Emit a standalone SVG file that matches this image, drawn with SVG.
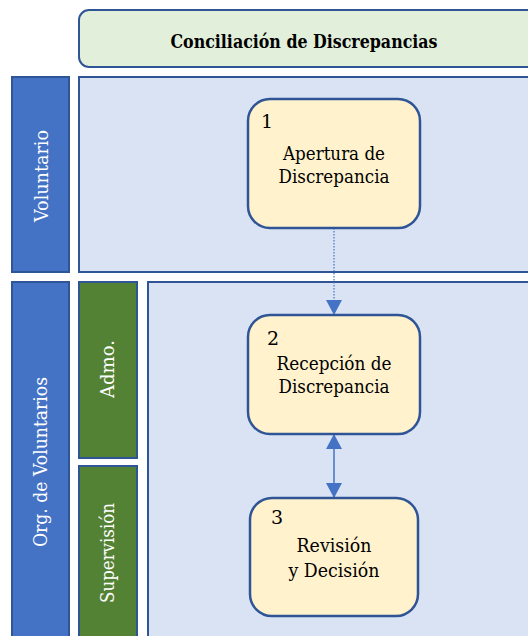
<svg xmlns="http://www.w3.org/2000/svg" width="528" height="636" viewBox="0 0 528 636">
<style>
.lane{fill:#4472c4;stroke:#2f5597;stroke-width:2}
.sub{fill:#548235;stroke:#2f5597;stroke-width:2}
.area{fill:#dae3f3;stroke:#2f5597;stroke-width:2}
.node{fill:#fff2cc;stroke:#2f5597;stroke-width:2.5}
text{font-family:'DejaVu Serif','Liberation Serif',serif;font-size:19px}
.t{fill:#000}
.w{fill:#fff;text-anchor:middle}
.c{text-anchor:middle}
</style>
<defs>
<marker id="ah" markerWidth="15" markerHeight="16" refX="15" refY="8" orient="auto" markerUnits="userSpaceOnUse">
<path d="M0,0 L15,8 L0,16 Z" fill="#4472c4"/>
</marker>
<marker id="as" markerWidth="15" markerHeight="16" refX="0" refY="8" orient="auto" markerUnits="userSpaceOnUse">
<path d="M15,0 L0,8 L15,16 Z" fill="#4472c4"/>
</marker>
</defs>
<rect width="528" height="636" fill="#fff"/>
<g id="title">
<rect x="79" y="10" width="470" height="57" rx="10" fill="#e2efda" stroke="#2f5597" stroke-width="2"/>
<text class="t c" x="304" y="48" font-weight="bold" textLength="267" lengthAdjust="spacingAndGlyphs">Conciliación de Discrepancias</text>
</g>
<g id="lane-voluntario">
<rect class="lane" x="12" y="77" width="57" height="195"/>
<text class="w" transform="translate(48,176) rotate(-90)" textLength="92" lengthAdjust="spacingAndGlyphs">Voluntario</text>
<rect class="area" x="79" y="77" width="470" height="195"/>
</g>
<g id="lane-org">
<rect class="lane" x="12" y="282" width="57" height="370"/>
<text class="w" transform="translate(47,462) rotate(-90)" textLength="170" lengthAdjust="spacingAndGlyphs">Org. de Voluntarios</text>
<rect class="sub" x="79" y="282" width="58" height="176"/>
<text class="w" transform="translate(114,369) rotate(-90)" textLength="58" lengthAdjust="spacingAndGlyphs">Admo.</text>
<rect class="sub" x="79" y="466" width="58" height="186"/>
<text class="w" transform="translate(114,553) rotate(-90)" textLength="100" lengthAdjust="spacingAndGlyphs">Supervisión</text>
<rect class="area" x="148" y="282" width="400" height="370"/>
</g>
<g id="connectors">
<line x1="334" y1="228" x2="334" y2="315" stroke="#4472c4" stroke-width="1.2" stroke-dasharray="1.5,1.5" marker-end="url(#ah)"/>
<line x1="334" y1="434" x2="334" y2="498" stroke="#4472c4" stroke-width="1.5" marker-start="url(#as)" marker-end="url(#ah)"/>
</g>
<g id="node1">
<rect class="node" x="248" y="99" width="172" height="129" rx="22"/>
<text class="t" x="261" y="128">1</text>
<text class="t c" x="334" y="160" textLength="102" lengthAdjust="spacingAndGlyphs">Apertura de</text>
<text class="t c" x="334" y="183" textLength="111" lengthAdjust="spacingAndGlyphs">Discrepancia</text>
</g>
<g id="node2">
<rect class="node" x="248" y="315" width="172" height="119" rx="22"/>
<text class="t" x="267" y="345">2</text>
<text class="t c" x="334" y="370" textLength="115" lengthAdjust="spacingAndGlyphs">Recepción de</text>
<text class="t c" x="334" y="393" textLength="111" lengthAdjust="spacingAndGlyphs">Discrepancia</text>
</g>
<g id="node3">
<rect class="node" x="250" y="498" width="168" height="118" rx="22"/>
<text class="t" x="271" y="524">3</text>
<text class="t c" x="334" y="552" textLength="75" lengthAdjust="spacingAndGlyphs">Revisión</text>
<text class="t c" x="334" y="577" textLength="91" lengthAdjust="spacingAndGlyphs">y Decisión</text>
</g>
</svg>
